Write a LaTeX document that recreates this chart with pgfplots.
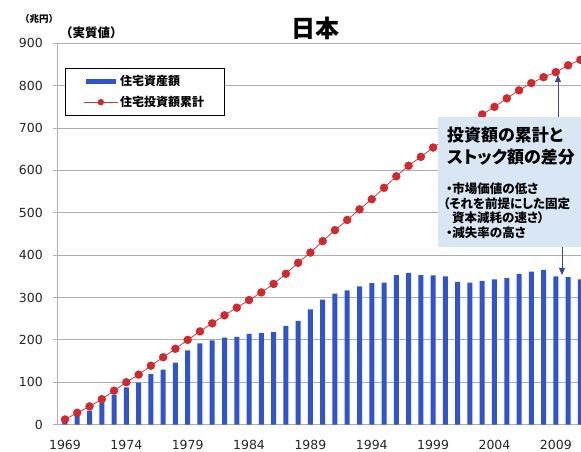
\documentclass[border=0pt]{standalone}
\usepackage{pgfplots}
\pgfplotsset{compat=1.18}
\usepackage{fontspec}
\usetikzlibrary{arrows.meta}
\setmainfont{DejaVu Sans}
\newfontfamily\numfont{DejaVu Sans}
\newfontfamily\jp{Noto Sans CJK JP}
\newfontfamily\jpp{Noto Sans CJK JP}[RawFeature=+palt]
\definecolor{barblue}{RGB}{47,84,206}
\definecolor{mkred}{RGB}{214,40,44}
\definecolor{lnred}{RGB}{200,60,60}
\definecolor{gridc}{RGB}{175,175,175}
\definecolor{annot}{RGB}{216,231,243}
\definecolor{arrowc}{RGB}{60,72,150}
\begin{document}
\begin{tikzpicture}
\useasboundingbox (0,0) rectangle (581pt,452pt);
\begin{axis}[
  at={(57pt,27.4pt)}, anchor=south west,
  width=524pt, height=381.3pt, scale only axis,
  xmin=1968.35, xmax=2011.05,
  ymin=0, ymax=900,
  axis x line*=bottom, axis y line*=left,
  axis line style={draw=gridc, line width=0.8pt},
  ytick={0,100,...,900},
  xtick={1969,1974,...,2009},
  ymajorgrids, grid style={draw=gridc, line width=0.8pt},
  xtick style={draw=none},
  ytick style={draw=gridc, line width=0.8pt},
  tick align=outside, major tick length=4pt,
  /pgf/number format/assume math mode=true,
  /pgf/number format/1000 sep={},
  tick label style={font=\numfont\fontsize{12.5}{14}\selectfont, text=black!85},
  yticklabel style={inner sep=0pt, anchor=east, xshift=-10pt},
  xticklabel style={inner sep=0pt, anchor=north, yshift=-11pt},
  legend style={at={(0.0153,0.935)}, anchor=north west, draw=black, line width=0.8pt,
    fill=white, inner xsep=18pt, inner ysep=5pt, row sep=5pt,
    font=\jp\bfseries\fontsize{12}{14}\selectfont},
  legend cell align=left,
]
\addplot[ybar, bar width=5pt, fill=barblue, draw=none,
  legend image code/.code={\path (-2pt,0pt) -- (32pt,0pt);
     \fill[barblue] (0pt,-2.5pt) rectangle (30pt,2.5pt);}]
coordinates {
(1969,6) (1970,20) (1971,33) (1972,51) (1973,70) (1974,88) (1975,99) (1976,119)
(1977,130) (1978,146) (1979,175) (1980,192) (1981,199) (1982,205) (1983,207)
(1984,214) (1985,216) (1986,218) (1987,233) (1988,245) (1989,272) (1990,295)
(1991,309) (1992,317) (1993,326) (1994,334) (1995,335) (1996,353) (1997,358)
(1998,353) (1999,352) (2000,350) (2001,337) (2002,335) (2003,339) (2004,343)
(2005,346) (2006,356) (2007,361) (2008,365) (2009,350) (2010,348) (2011,343)
};
\addlegendentry{住宅資産額}
\addplot[draw=lnred, line width=0.8pt, mark=*, mark size=4pt,
  mark options={fill=mkred, draw=mkred!85!black, line width=0.3pt},
  legend image code/.code={\path (-2pt,0pt) -- (32pt,0pt);
     \draw[draw=lnred, line width=0.8pt] (0pt,0pt) -- (30pt,0pt);
     \fill[mkred] (15pt,0pt) circle (2.8pt);}]
coordinates {
(1969,12) (1970,28) (1971,43) (1972,60) (1973,80) (1974,100) (1975,118) (1976,139)
(1977,159) (1978,179) (1979,200) (1980,220) (1981,239) (1982,258) (1983,276)
(1984,294) (1985,312) (1986,332) (1987,356) (1988,382) (1989,406) (1990,433)
(1991,459) (1992,483) (1993,508) (1994,532) (1995,559) (1996,586) (1997,611)
(1998,632) (1999,654) (2000,674) (2001,694) (2002,713) (2003,732) (2004,750)
(2005,770) (2006,789) (2007,806) (2008,820) (2009,832) (2010,848) (2011,861)
};
\addlegendentry{住宅投資額累計}
\end{axis}
% titles
\node[font=\jp\bfseries\fontsize{24}{26}\selectfont] at (315pt,424pt) {日本};
\node[anchor=west, inner sep=0pt, font=\jp\bfseries\fontsize{9.5}{10}\selectfont] at (20pt,433pt) {（兆円）};
\node[anchor=west, inner sep=0pt, font=\jp\bfseries\fontsize{12.5}{14}\selectfont] at (60pt,419pt) {（実質値）};
% annotation box
\fill[annot] (438pt,205pt) rectangle (581pt,335pt);
\draw[arrowc, line width=0.8pt, -{Triangle[width=6pt,length=7pt]}] (558pt,335pt) -- (558pt,377pt);
\draw[arrowc, line width=0.8pt, -{Triangle[width=6pt,length=7pt]}] (562pt,205pt) -- (562pt,177pt);
\node[anchor=west, inner sep=0pt, font=\jpp\bfseries\fontsize{17}{19}\selectfont] at (447pt,317pt) {投資額の累計と};
\node[anchor=west, inner sep=0pt, font=\jpp\bfseries\fontsize{17}{19}\selectfont] at (447pt,295pt) {ストック額の差分};
\node[anchor=west, inner sep=0pt, font=\jpp\bfseries\fontsize{12.5}{13}\selectfont] at (446pt,263pt) {・市場価値の低さ};
\node[anchor=west, inner sep=0pt, font=\jpp\bfseries\fontsize{12.5}{13}\selectfont] at (443pt,248pt) {（それを前提にした固定};
\node[anchor=west, inner sep=0pt, font=\jpp\bfseries\fontsize{12.5}{13}\selectfont] at (452pt,234pt) {資本減耗の速さ）};
\node[anchor=west, inner sep=0pt, font=\jpp\bfseries\fontsize{12.5}{13}\selectfont] at (446pt,219pt) {・減失率の高さ};
\end{tikzpicture}
\end{document}
